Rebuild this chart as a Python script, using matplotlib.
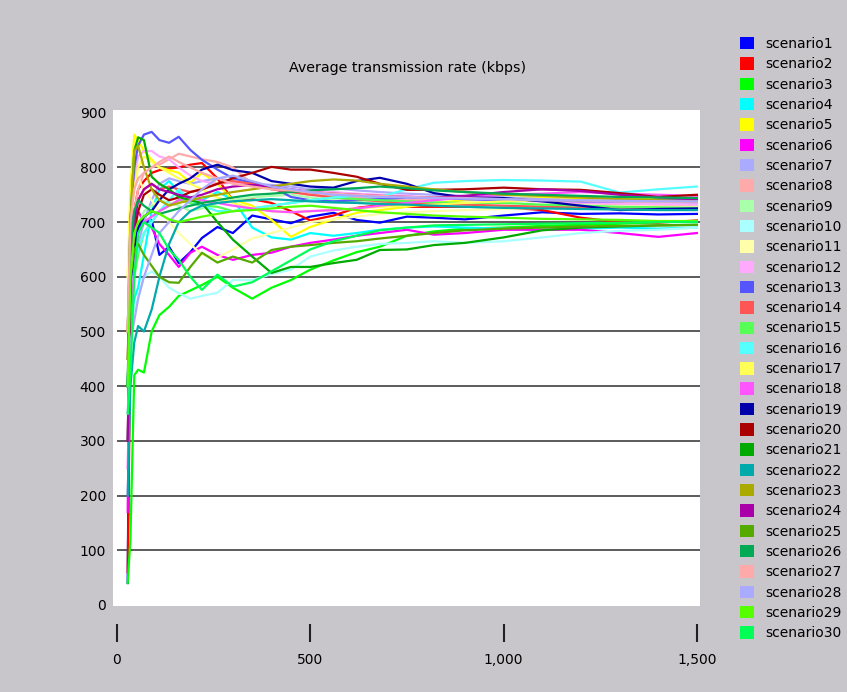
import matplotlib
matplotlib.use("Agg")
import matplotlib.pyplot as plt
from matplotlib.patches import Patch
from matplotlib.ticker import FuncFormatter

plt.rcParams['font.family'] = ['DejaVu Sans']

# sample positions along the run (same for every scenario)
x = [28, 35, 45, 55, 70, 90, 110, 135, 160, 190, 220, 260, 300, 350, 400,
     450, 500, 560, 620, 680, 750, 820, 900, 1000, 1100, 1200, 1300, 1400, 1500]

s1 = [40, 735, 690, 685, 700, 704, 640, 655, 625, 645, 671, 691, 680, 712, 705, 698, 710, 717, 704, 699, 710, 708, 705, 712, 718, 715, 716, 714, 715]
s2 = [60, 480, 720, 760, 775, 790, 795, 798, 800, 805, 808, 780, 740, 742, 735, 720, 703, 712, 726, 731, 728, 728, 728, 727, 722, 708, 700, 699, 703]
s3 = [40, 120, 420, 430, 425, 500, 530, 545, 565, 575, 585, 600, 580, 560, 580, 594, 613, 630, 645, 655, 675, 683, 688, 690, 693, 695, 697, 700, 702]
s4 = [300, 520, 560, 580, 640, 720, 760, 775, 755, 745, 740, 755, 742, 690, 672, 668, 680, 675, 680, 686, 690, 692, 690, 688, 686, 688, 690, 688, 690]
s5 = [600, 760, 860, 850, 830, 814, 800, 795, 790, 772, 790, 770, 741, 730, 704, 673, 691, 705, 717, 722, 728, 735, 740, 744, 745, 744, 742, 744, 744]
s6 = [170, 600, 700, 720, 700, 690, 660, 640, 618, 644, 655, 640, 631, 640, 644, 655, 662, 668, 675, 680, 686, 677, 680, 686, 686, 686, 680, 673, 680]
s7 = [400, 550, 620, 660, 700, 740, 770, 780, 775, 770, 775, 780, 775, 770, 768, 765, 760, 762, 758, 755, 752, 750, 748, 745, 742, 740, 738, 736, 735]
s8 = [500, 650, 720, 760, 790, 800, 805, 815, 825, 820, 815, 810, 800, 770, 760, 755, 750, 748, 745, 742, 740, 742, 745, 740, 738, 735, 733, 732, 730]
s9 = [450, 600, 650, 690, 720, 730, 740, 735, 730, 720, 725, 735, 740, 745, 748, 750, 745, 740, 738, 735, 735, 733, 730, 728, 730, 728, 726, 725, 724]
s10 = [450, 520, 540, 560, 600, 610, 600, 580, 570, 560, 565, 571, 594, 594, 605, 613, 637, 648, 655, 660, 662, 665, 662, 665, 672, 680, 684, 686, 690]
s11 = [600, 720, 800, 780, 760, 740, 720, 700, 680, 660, 640, 635, 650, 670, 680, 690, 700, 705, 710, 715, 718, 720, 722, 724, 726, 727, 728, 728, 728]
s12 = [500, 700, 780, 820, 830, 830, 820, 815, 800, 785, 775, 770, 772, 768, 765, 760, 758, 755, 752, 750, 748, 745, 742, 740, 738, 736, 734, 733, 732]
s13 = [500, 700, 800, 840, 860, 865, 850, 845, 856, 832, 814, 796, 780, 772, 765, 746, 740, 738, 740, 742, 745, 744, 742, 740, 740, 738, 738, 740, 740]
s14 = [450, 650, 700, 740, 760, 770, 760, 765, 760, 755, 760, 770, 775, 770, 760, 755, 750, 745, 742, 738, 735, 733, 732, 730, 728, 727, 726, 725, 725]
s15 = [400, 520, 600, 640, 680, 700, 720, 730, 740, 735, 730, 728, 720, 725, 730, 735, 740, 745, 742, 740, 738, 736, 735, 735, 732, 730, 728, 727, 726]
s16 = [400, 560, 620, 650, 680, 700, 720, 740, 760, 740, 730, 720, 720, 725, 730, 735, 740, 745, 748, 746, 760, 772, 775, 777, 776, 774, 754, 760, 765]
s17 = [500, 700, 760, 800, 820, 810, 800, 790, 780, 770, 760, 745, 735, 725, 720, 718, 720, 722, 725, 728, 730, 732, 735, 738, 740, 740, 739, 738, 738]
s18 = [250, 500, 620, 680, 700, 710, 720, 730, 740, 745, 740, 735, 730, 725, 720, 718, 720, 722, 725, 730, 735, 740, 745, 750, 752, 755, 752, 750, 748]
s19 = [400, 590, 650, 690, 710, 720, 740, 760, 770, 780, 796, 805, 795, 790, 775, 770, 765, 763, 775, 781, 770, 753, 745, 744, 738, 730, 722, 724, 725]
s20 = [300, 600, 680, 720, 750, 760, 750, 740, 745, 755, 760, 770, 780, 790, 801, 796, 796, 790, 783, 770, 759, 759, 760, 763, 760, 759, 753, 746, 750]
s21 = [400, 700, 830, 855, 850, 783, 770, 760, 746, 740, 735, 700, 668, 637, 607, 618, 618, 625, 631, 649, 650, 658, 662, 672, 685, 690, 692, 694, 695]
s22 = [200, 400, 480, 510, 500, 540, 600, 660, 700, 720, 730, 735, 738, 740, 742, 740, 738, 736, 735, 733, 732, 730, 728, 726, 725, 724, 723, 722, 722]
s23 = [500, 700, 830, 840, 800, 760, 740, 730, 735, 740, 745, 750, 755, 760, 765, 770, 775, 778, 776, 770, 765, 760, 755, 750, 748, 745, 742, 740, 738]
s24 = [300, 600, 700, 740, 760, 770, 760, 755, 750, 745, 750, 760, 765, 768, 765, 760, 755, 752, 750, 748, 746, 745, 748, 755, 760, 757, 750, 745, 742]
s25 = [450, 600, 650, 660, 640, 620, 600, 590, 589, 618, 644, 626, 637, 626, 649, 655, 658, 662, 665, 670, 675, 680, 685, 688, 690, 692, 693, 694, 695]
s26 = [400, 650, 720, 740, 730, 720, 715, 720, 725, 730, 735, 740, 745, 750, 752, 755, 758, 760, 762, 765, 762, 758, 755, 752, 750, 748, 746, 745, 744]
s27 = [500, 700, 760, 780, 790, 800, 810, 820, 810, 800, 790, 780, 770, 765, 760, 758, 755, 752, 750, 748, 746, 745, 744, 742, 740, 740, 738, 738, 737]
s28 = [350, 480, 520, 560, 600, 640, 680, 700, 720, 740, 760, 780, 785, 775, 765, 760, 755, 750, 748, 746, 745, 744, 743, 742, 740, 740, 739, 738, 738]
s29 = [400, 600, 680, 700, 710, 720, 715, 705, 700, 705, 710, 715, 720, 722, 725, 728, 730, 726, 722, 718, 715, 712, 710, 708, 706, 705, 704, 702, 702]
s30 = [350, 420, 600, 680, 700, 690, 680, 650, 631, 600, 576, 604, 582, 590, 610, 630, 650, 665, 675, 685, 690, 694, 695, 696, 697, 698, 699, 700, 700]

series = [s1, s2, s3, s4, s5, s6, s7, s8, s9, s10, s11, s12, s13, s14, s15,
          s16, s17, s18, s19, s20, s21, s22, s23, s24, s25, s26, s27, s28, s29, s30]
names = ["scenario%d" % (i + 1) for i in range(30)]
colors = ['#0000ff', '#ff0000', '#00ff00', '#00ffff', '#ffff00', '#ff00ff',
          '#aaaaff', '#ffaaaa', '#aaffaa', '#aaffff', '#ffffaa', '#ffaaff',
          '#5555ff', '#ff5555', '#55ff55', '#55ffff', '#ffff55', '#ff55ff',
          '#0000aa', '#aa0000', '#00aa00', '#00aaaa', '#aaaa00', '#aa00aa',
          '#55aa00', '#00aa55', '#ffaaaa', '#aaaaff', '#55ff00', '#00ff55']

bg = '#c8c6ca'
fig = plt.figure(figsize=(8.47, 6.92), dpi=100, facecolor=bg)
ax = fig.add_axes([113/847, 1 - 606/692, 587/847, 496/692])
ax.set_facecolor('white')

ax.hlines([100, 200, 300, 400, 500, 600, 700, 800], 0, 1508, color='#404040', lw=1.2, zorder=1)
for ys, c in zip(series, colors):
    ax.plot(x, ys, color=c, lw=1.6, zorder=2)

ax.set_xlim(-10, 1508)
ax.set_ylim(-2, 905)
ax.set_yticks(range(0, 901, 100))
ax.set_xticks([0, 500, 1000, 1500])
ax.xaxis.set_major_formatter(FuncFormatter(lambda v, p: "{:,}".format(int(v))))
ax.tick_params(axis='y', length=0, pad=5, labelsize=10)
ax.tick_params(axis='x', length=13, width=1.5, color='#202020', pad=8, labelsize=10)
for s in ['top', 'left', 'right']:
    ax.spines[s].set_visible(False)
ax.spines['bottom'].set_position(('outward', 13))
ax.spines['bottom'].set_visible(False)

fig.text(408/847, 1 - 68/692, "Average transmission rate (kbps)", ha='center', va='center', fontsize=10.3)

handles = [Patch(facecolor=c, edgecolor='none') for c in colors]
fig.legend(handles, names, loc='upper left', bbox_to_anchor=(740/847, 1 - 37/692),
           frameon=False, fontsize=10, handlelength=1.0, handleheight=1.0,
           handletextpad=0.85, labelspacing=0.455, borderaxespad=0, borderpad=0)

fig.savefig('out.png', dpi=100, facecolor=bg)
